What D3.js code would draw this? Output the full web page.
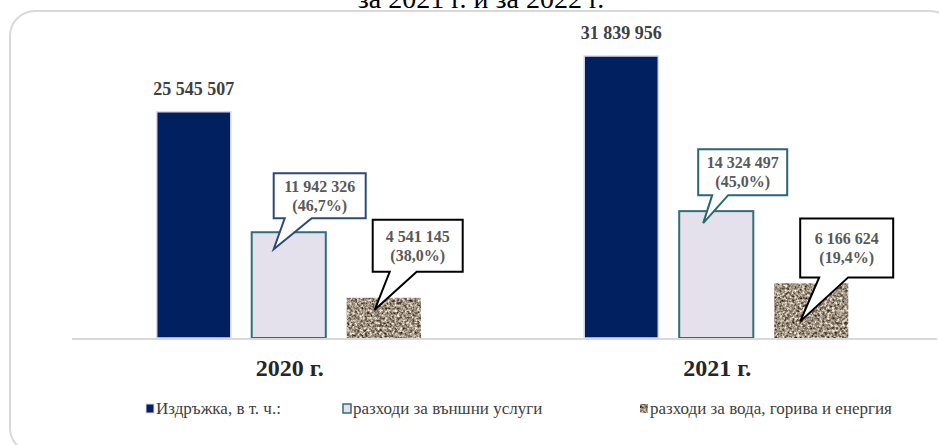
<!DOCTYPE html>
<html>
<head>
<meta charset="utf-8">
<script src="https://cdn.jsdelivr.net/npm/d3@7"></script>
<style>
  body { margin: 0; background: #fff; }
  svg text { font-family: "Times New Roman", "Liberation Serif", Tinos, serif; }
</style>
</head>
<body>
<div id="chart"></div>
<script>
// data
var years = ["2020 г.", "2021 г."];
var seriesNames = ["Издръжка, в т. ч.:", "разходи за външни услуги", "разходи за вода, горива и енергия"];
var upkeep = [25545507, 31839956];
var services = [11942326, 14324497];
var utilities = [4541145, 6166624];
var servicesShare = ["46,7%", "45,0%"];
var utilitiesShare = ["38,0%", "19,4%"];

var w = 939, h = 445,
    x0 = 75, x1 = 930,
    baseY = 338, topY = 56;

var svg = d3.select("#chart").append("svg")
  .attr("width", w)
  .attr("height", h);

// granite-like texture for the third series
var defs = svg.append("defs");
var flt = defs.append("filter").attr("id", "granite")
  .attr("x", 0).attr("y", 0).attr("width", 1).attr("height", 1)
  .attr("color-interpolation-filters", "sRGB");
flt.append("feTurbulence")
  .attr("type", "fractalNoise")
  .attr("baseFrequency", 0.4)
  .attr("numOctaves", 3)
  .attr("seed", 7)
  .attr("result", "noise");
flt.append("feColorMatrix")
  .attr("in", "noise")
  .attr("type", "matrix")
  .attr("values", "1.4 0 0 0 -0.08  1.4 0 0 0 -0.13  1.4 0 0 0 -0.19  0 0 0 0 1")
  .attr("result", "col");
flt.append("feComposite")
  .attr("in", "col").attr("in2", "SourceGraphic").attr("operator", "in");

// frame + (cut) title
svg.append("rect")
  .attr("x", 10).attr("y", 11)
  .attr("width", 945).attr("height", 442)
  .attr("rx", 25)
  .attr("fill", "none")
  .attr("stroke", "#d9d9d9")
  .attr("stroke-width", 2);

svg.append("text")
  .attr("x", 481).attr("y", 8)
  .attr("text-anchor", "middle")
  .attr("font-size", 28)
  .attr("fill", "#000")
  .text("за 2021 г. и за 2022 г.");

var x = d3.scaleBand().domain(years).range([x0, x1]).paddingInner(0).paddingOuter(0);
var xs = d3.scaleBand().domain([0, 1, 2]).range([0, x.bandwidth()]).paddingInner(0.22).paddingOuter(0.86);
var y = d3.scaleLinear().domain([0, 31839956]).range([baseY, topY]);

var styles = [
  { fill: "#002060", stroke: "#dcd8ea", sw: 1.5 },
  { fill: "#e4e0ec", stroke: "#2f6f7a", sw: 2 },
  { fill: "#a89a8a", stroke: "none", sw: 0, filter: "url(#granite)" }
];

var rows = [];
years.forEach((yr, i) => {
  rows.push({ yr: yr, s: 0, v: upkeep[i], i: i });
  rows.push({ yr: yr, s: 1, v: services[i], i: i, share: servicesShare[i] });
  rows.push({ yr: yr, s: 2, v: utilities[i], i: i, share: utilitiesShare[i] });
});

svg.append("g")
  .selectAll("rect")
  .data(rows)
  .enter().append("rect")
  .attr("x", (d) => x(d.yr) + xs(d.s))
  .attr("y", (d) => y(d.v))
  .attr("width", xs.bandwidth())
  .attr("height", (d) => baseY - y(d.v))
  .attr("fill", (d) => styles[d.s].fill)
  .attr("stroke", (d) => styles[d.s].stroke)
  .attr("stroke-width", (d) => styles[d.s].sw)
  .attr("filter", (d) => styles[d.s].filter || null);

// axis line
svg.append("line")
  .attr("x1", 72).attr("x2", 937)
  .attr("y1", baseY + 1).attr("y2", baseY + 1)
  .attr("stroke", "#d9d9d9")
  .attr("stroke-width", 2);

// category labels
svg.append("g")
  .selectAll("text")
  .data(years)
  .enter().append("text")
  .attr("x", (d) => x(d) + x.bandwidth() / 2 + 1)
  .attr("y", 376)
  .attr("text-anchor", "middle")
  .attr("font-size", 24)
  .attr("font-weight", "bold")
  .attr("fill", "#262626")
  .text((d) => d);

var fmt = (v) => d3.format(",")(v).replace(/,/g, " ");

// labels above the dark bars
svg.append("g")
  .selectAll("text")
  .data(rows.filter((d) => d.s == 0))
  .enter().append("text")
  .attr("x", (d) => x(d.yr) + xs(0) + xs.bandwidth() / 2)
  .attr("y", (d) => y(d.v) - 17)
  .attr("text-anchor", "middle")
  .attr("font-size", 18)
  .attr("font-weight", "bold")
  .attr("fill", "#404040")
  .text((d) => fmt(d.v));

// callouts: box offset from bar, box size, tail base and tip
var callouts = [
  { i: 0, s: 1, dx: 22, dy: -59, bw: 92, bh: 45, t0: 11, t1: 38, tx: 22, ty: 17, col: "#2b4a78" },
  { i: 0, s: 2, dx: 26, dy: -78, bw: 90, bh: 52, t0: 17, t1: 44, tx: 28, ty: 12, col: "#000" },
  { i: 1, s: 1, dx: 19, dy: -62, bw: 89, bh: 46, t0: 14, t1: 30, tx: 24, ty: 12, col: "#2a6673" },
  { i: 1, s: 2, dx: 26, dy: -65, bw: 93, bh: 59, t0: 19, t1: 48, tx: 26, ty: 38, col: "#000" }
];

svg.append("g")
  .selectAll("g")
  .data(callouts)
  .enter().append("g")
  .each(function (c) {
    var d = rows.find((r) => r.i == c.i && r.s == c.s);
    var bx = x(d.yr) + xs(d.s), by = y(d.v);
    var l = bx + c.dx, t = by + c.dy, r = l + c.bw, b = t + c.bh;
    var p = d3.path();
    p.moveTo(l, t);
    p.lineTo(r, t);
    p.lineTo(r, b);
    p.lineTo(l + c.t1, b);
    p.lineTo(bx + c.tx, by + c.ty);
    p.lineTo(l + c.t0, b);
    p.lineTo(l, b);
    p.closePath();
    var g = d3.select(this);
    g.append("path")
      .attr("d", p.toString())
      .attr("fill", "#fff")
      .attr("stroke", c.col)
      .attr("stroke-width", 2)
      .attr("stroke-linejoin", "miter");
    var cx = (l + r) / 2, cy = (t + b) / 2;
    g.append("text")
      .attr("x", cx).attr("y", cy - 4)
      .attr("text-anchor", "middle")
      .attr("font-size", 16)
      .attr("font-weight", "bold")
      .attr("fill", "#595959")
      .text(fmt(d.v));
    g.append("text")
      .attr("x", cx).attr("y", cy + 15)
      .attr("text-anchor", "middle")
      .attr("font-size", 16)
      .attr("font-weight", "bold")
      .attr("fill", "#595959")
      .text("(" + d.share + ")");
  });

// legend
var legX = [146, 343, 640];
var leg = svg.append("g")
  .selectAll("g")
  .data(seriesNames)
  .enter().append("g")
  .attr("transform", (d, i) => "translate(" + legX[i] + ",409)");

leg.append("rect")
  .attr("x", 0).attr("y", -5)
  .attr("width", 8).attr("height", 9)
  .attr("fill", (d, i) => styles[i].fill)
  .attr("stroke", (d, i) => i == 0 ? "#dcd8ea" : styles[i].stroke)
  .attr("stroke-width", (d, i) => i == 1 ? 1.5 : 1)
  .attr("filter", (d, i) => styles[i].filter || null);

leg.append("text")
  .attr("x", 10).attr("y", 5)
  .attr("font-size", 17)
  .attr("fill", "#404040")
  .text((d) => d);
</script>
</body>
</html>
